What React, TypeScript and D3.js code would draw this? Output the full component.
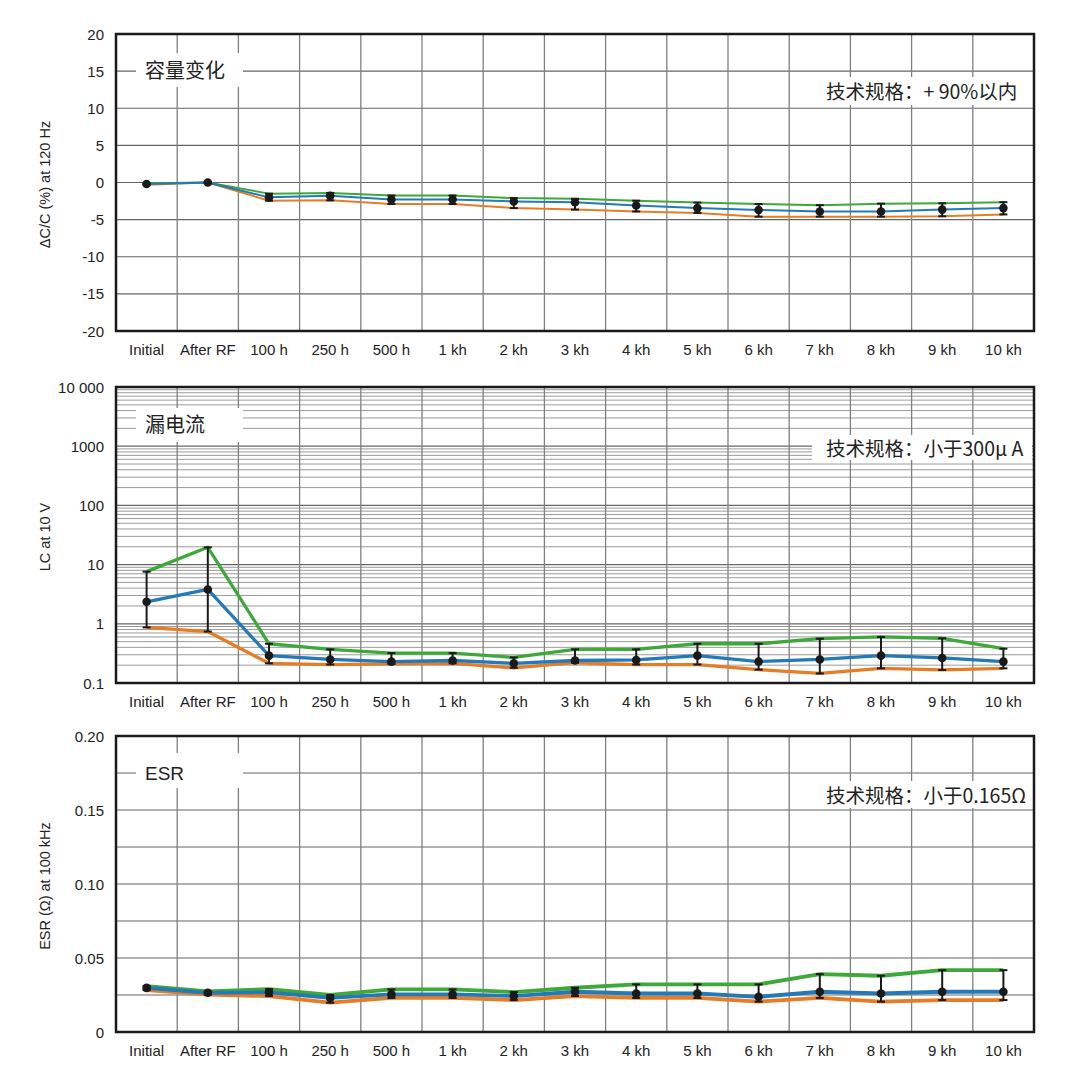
import * as d3 from "d3";
import React from "react";

// categories along the test timeline
const categories = ["Initial", "After RF", "100 h", "250 h", "500 h", "1 kh", "2 kh", "3 kh", "4 kh", "5 kh", "6 kh", "7 kh", "8 kh", "9 kh", "10 kh"];

// capacitance change (%) at 120 Hz
const capMax = [-0.1, 0, -1.5, -1.4, -1.75, -1.75, -2.1, -2.2, -2.45, -2.7, -2.9, -3.05, -2.85, -2.8, -2.65];
const capAvg = [-0.2, 0, -2.0, -1.8, -2.3, -2.3, -2.55, -2.65, -3.1, -3.45, -3.7, -3.9, -3.9, -3.65, -3.45];
const capMin = [-0.3, 0, -2.45, -2.4, -2.9, -2.9, -3.45, -3.65, -3.9, -4.1, -4.6, -4.6, -4.6, -4.55, -4.3];

// leakage current at 10 V
const lcMax = [7.6, 19.6, 0.46, 0.37, 0.32, 0.32, 0.27, 0.37, 0.37, 0.46, 0.46, 0.56, 0.6, 0.57, 0.38];
const lcAvg = [2.35, 3.8, 0.29, 0.25, 0.23, 0.24, 0.215, 0.24, 0.245, 0.29, 0.23, 0.25, 0.29, 0.265, 0.23];
const lcMin = [0.87, 0.74, 0.215, 0.205, 0.21, 0.215, 0.18, 0.22, 0.205, 0.205, 0.168, 0.145, 0.177, 0.166, 0.177];

// ESR (ohm) at 100 kHz
const esrMax = [0.031, 0.0274, 0.029, 0.025, 0.0288, 0.0288, 0.027, 0.0299, 0.0322, 0.0322, 0.0322, 0.0391, 0.038, 0.0418, 0.0418];
const esrAvg = [0.0298, 0.0265, 0.0268, 0.023, 0.0254, 0.0254, 0.0243, 0.0272, 0.026, 0.026, 0.0238, 0.0272, 0.026, 0.0272, 0.0272];
const esrMin = [0.0283, 0.0252, 0.0243, 0.0198, 0.023, 0.023, 0.0216, 0.0243, 0.023, 0.023, 0.0205, 0.023, 0.0205, 0.0216, 0.0216];

const capTicks = [20, 15, 10, 5, 0, -5, -10, -15, -20];
const lcTicks = [10000, 1000, 100, 10, 1, 0.1];
const lcTickLabels = ["10 000", "1000", "100", "10", "1", "0.1"];
const esrTicks = [0.2, 0.15, 0.1, 0.05, 0];
const esrTickLabels = ["0.20", "0.15", "0.10", "0.05", "0"];

const GREEN = "#3fa83a";
const BLUE = "#2479b8";
const ORANGE = "#e67c26";
const LATIN = "'Liberation Sans', Arial, sans-serif";
const CJK = "'Noto Sans CJK SC', sans-serif";

const left = 116;
const right = 1034;
const x = d3.scaleBand<string>().domain(categories).range([left, right]).padding(0);
const cx = (i: number) => (x(categories[i]) as number) + x.bandwidth() / 2;

interface PanelProps {
  y: any;
  top: number;
  bottom: number;
  grid: number[];
  minorGrid?: number[];
  ticks: number[];
  tickLabels: string[];
  axisTitle: string;
  title: string;
  titleFont: string;
  titleSize: number;
  spec: string;
  specY: number;
  specBox: [number, number, number, number];
  titleBox: [number, number, number, number];
  titleY: number;
  maxV: number[];
  avgV: number[];
  minV: number[];
  lineWidth: number;
}

function Panel(p: PanelProps) {
  const line = d3
    .line<number>()
    .x((_, i) => cx(i))
    .y((d) => p.y(d));
  const mid = (p.top + p.bottom) / 2;
  return (
    <g>
      {/* grid */}
      {(p.minorGrid || []).map((g, i) => (
        <line key={"m" + i} x1={left} x2={right} y1={p.y(g)} y2={p.y(g)} stroke="#8e8e8e" strokeWidth={0.9} />
      ))}
      {p.grid.map((g, i) => (
        <line key={"h" + i} x1={left} x2={right} y1={p.y(g)} y2={p.y(g)} stroke="#666" strokeWidth={1.2} />
      ))}
      {categories.slice(1).map((c, i) => (
        <line key={"v" + i} x1={x(c)} x2={x(c)} y1={p.top} y2={p.bottom} stroke="#808080" strokeWidth={1.3} />
      ))}
      {/* label boxes */}
      <rect x={p.titleBox[0]} y={p.titleBox[1]} width={p.titleBox[2]} height={p.titleBox[3]} fill="#fff" />
      <rect x={p.specBox[0]} y={p.specBox[1]} width={p.specBox[2]} height={p.specBox[3]} fill="#fff" />
      <text x={145} y={p.titleY} dominantBaseline="central" fontFamily={p.titleFont} fontSize={p.titleSize} fill="#222">
        {p.title}
      </text>
      <text x={826} y={p.specY} dominantBaseline="central" fontFamily={CJK} fontSize={19.5} fill="#222">
        {p.spec}
      </text>
      {/* series */}
      <path d={line(p.minV) as string} fill="none" stroke={ORANGE} strokeWidth={p.lineWidth} strokeLinejoin="round" />
      <path d={line(p.maxV) as string} fill="none" stroke={GREEN} strokeWidth={p.lineWidth} strokeLinejoin="round" />
      <path d={line(p.avgV) as string} fill="none" stroke={BLUE} strokeWidth={p.lineWidth} strokeLinejoin="round" />
      {/* error bars */}
      {p.avgV.map((v, i) => (
        <g key={"e" + i} stroke="#1a1a1a" strokeWidth={2}>
          <line x1={cx(i)} x2={cx(i)} y1={p.y(p.maxV[i])} y2={p.y(p.minV[i])} />
          <line x1={cx(i) - 4} x2={cx(i) + 4} y1={p.y(p.maxV[i])} y2={p.y(p.maxV[i])} />
          <line x1={cx(i) - 4} x2={cx(i) + 4} y1={p.y(p.minV[i])} y2={p.y(p.minV[i])} />
        </g>
      ))}
      {p.avgV.map((v, i) => (
        <circle key={"c" + i} cx={cx(i)} cy={p.y(v)} r={4.3} fill="#1a1a1a" />
      ))}
      {/* frame */}
      <rect x={left} y={p.top} width={right - left} height={p.bottom - p.top} fill="none" stroke="#1a1a1a" strokeWidth={2.5} />
      {/* y ticks */}
      {p.ticks.map((t, i) => (
        <text key={"t" + i} x={104} y={p.y(t)} textAnchor="end" dominantBaseline="central" fontFamily={LATIN} fontSize={15} fill="#222">
          {p.tickLabels[i]}
        </text>
      ))}
      {/* x labels */}
      {categories.map((c, i) => (
        <text key={"x" + i} x={cx(i)} y={p.bottom + 18} textAnchor="middle" dominantBaseline="central" fontFamily={LATIN} fontSize={15} fill="#222">
          {c}
        </text>
      ))}
      <text
        transform={`translate(45,${mid + 2}) rotate(-90)`}
        textAnchor="middle"
        dominantBaseline="central"
        fontFamily={LATIN}
        fontSize={14.5}
        fill="#222"
      >
        {p.axisTitle}
      </text>
    </g>
  );
}

export default function App() {
  const yCap = d3.scaleLinear().domain([-20, 20]).range([331, 34]);
  const yLc = d3.scaleLog().domain([0.1, 10000]).range([683, 387]);
  const yEsr = d3.scaleLinear().domain([0, 0.2]).range([1032, 736]);

  const lcMinor: number[] = [];
  [0.1, 1, 10, 100, 1000].forEach((d) => {
    for (let k = 2; k <= 9; k++) lcMinor.push(d * k);
  });

  return (
    <div style={{ position: "absolute", left: 0, top: 0 }}>
      <svg width={1080} height={1077} style={{ display: "block", background: "#fff" }}>
        <Panel
          y={yCap}
          top={34}
          bottom={331}
          grid={[15, 10, 5, 0, -5, -10, -15]}
          ticks={capTicks}
          tickLabels={capTicks.map(String)}
          axisTitle="ΔC/C (%) at 120 Hz"
          title="容量变化"
          titleFont={CJK}
          titleSize={20}
          titleY={69}
          titleBox={[136, 53, 107, 34]}
          spec="技术规格：+ 90%以内"
          specY={90}
          specBox={[814, 77, 216, 28]}
          maxV={capMax}
          avgV={capAvg}
          minV={capMin}
          lineWidth={2}
        />
        <Panel
          y={yLc}
          top={387}
          bottom={683}
          grid={[1000, 100, 10, 1]}
          minorGrid={lcMinor}
          ticks={lcTicks}
          tickLabels={lcTickLabels}
          axisTitle="LC at 10 V"
          title="漏电流"
          titleFont={CJK}
          titleSize={20}
          titleY={423}
          titleBox={[136, 408, 107, 34]}
          spec="技术规格：小于300μ A"
          specY={447}
          specBox={[812, 435, 220, 25]}
          maxV={lcMax}
          avgV={lcAvg}
          minV={lcMin}
          lineWidth={3.3}
        />
        <Panel
          y={yEsr}
          top={736}
          bottom={1032}
          grid={[0.175, 0.15, 0.125, 0.1, 0.075, 0.05, 0.025]}
          ticks={esrTicks}
          tickLabels={esrTickLabels}
          axisTitle="ESR (Ω) at 100 kHz"
          title="ESR"
          titleFont={LATIN}
          titleSize={19}
          titleY={773}
          titleBox={[136, 753, 107, 35]}
          spec="技术规格：小于0.165Ω"
          specY={794}
          specBox={[814, 781, 216, 27]}
          maxV={esrMax}
          avgV={esrAvg}
          minV={esrMin}
          lineWidth={3.8}
        />
      </svg>
    </div>
  );
}
